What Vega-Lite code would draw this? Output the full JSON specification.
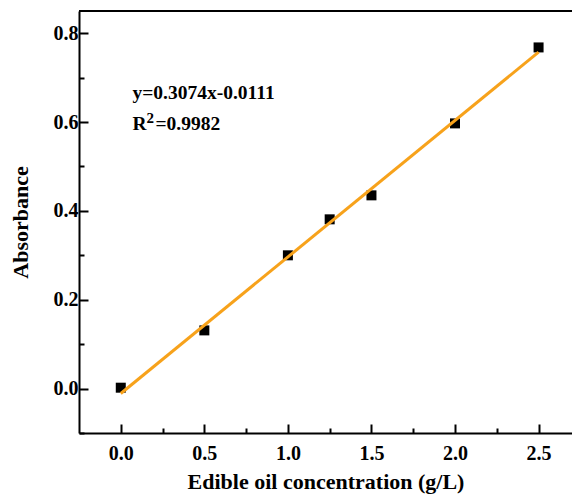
{
  "$schema": "https://vega.github.io/schema/vega-lite/v6.json",
  "width": 493,
  "height": 422,
  "autosize": {"type": "none"},
  "padding": {"left": 79, "top": 11, "right": 0, "bottom": 62},
  "background": "white",
  "config": {
    "view": {"stroke": null},
    "font": "Liberation Serif",
    "axis": {
      "domainColor": "black",
      "domainWidth": 2,
      "tickColor": "black",
      "tickWidth": 2,
      "grid": false,
      "labelOverlap": false,
      "labelFont": "Liberation Serif",
      "labelFontWeight": "bold",
      "labelFontSize": 20,
      "labelColor": "black",
      "titleFont": "Liberation Serif",
      "titleFontWeight": "bold",
      "titleFontSize": 22,
      "titleColor": "black"
    }
  },
  "datasets": {
    "measured": [
      {"conc": 0.0, "abs": 0.002},
      {"conc": 0.5, "abs": 0.131},
      {"conc": 1.0, "abs": 0.300},
      {"conc": 1.25, "abs": 0.381},
      {"conc": 1.5, "abs": 0.435},
      {"conc": 2.0, "abs": 0.597},
      {"conc": 2.5, "abs": 0.768}
    ],
    "fit": [
      {"conc": 0.0, "abs": -0.0111},
      {"conc": 2.5, "abs": 0.7574}
    ]
  },
  "layer": [
    {
      "data": {"values": [{"top": 0.85}]},
      "mark": {"type": "rule", "color": "black", "strokeWidth": 2},
      "encoding": {"y": {"field": "top", "type": "quantitative", "scale": {"domain": [-0.1, 0.85]}}}
    },
    {
      "data": {"name": "measured"},
      "mark": {"type": "square", "color": "black", "opacity": 1, "size": 100, "filled": true},
      "encoding": {
        "x": {
          "field": "conc", "type": "quantitative",
          "scale": {"domain": [-0.25, 2.7], "nice": false, "zero": false},
          "axis": {
            "title": "Edible oil concentration (g/L)",
            "values": [0, 0.25, 0.5, 0.75, 1, 1.25, 1.5, 1.75, 2, 2.25, 2.5],
            "labelExpr": "round(datum.value * 4) % 2 == 1 ? '' : format(datum.value, '.1f')",
            "tickSize": {"condition": {"test": "round(datum.value * 4) % 2 == 1", "value": -5}, "value": -9},
            "labelPadding": 19,
            "titlePadding": 4
          }
        },
        "y": {
          "field": "abs", "type": "quantitative",
          "scale": {"domain": [-0.1, 0.85], "nice": false, "zero": false},
          "axis": {
            "title": "Absorbance",
            "values": [-0.1, 0, 0.1, 0.2, 0.3, 0.4, 0.5, 0.6, 0.7, 0.8],
            "labelExpr": "round(abs(datum.value) * 10) % 2 == 1 ? '' : format(datum.value, '.1f')",
            "tickSize": {"condition": {"test": "round(abs(datum.value) * 10) % 2 == 1", "value": -5}, "value": -9},
            "labelPadding": 10,
            "titlePadding": 21
          }
        }
      }
    },
    {
      "data": {"name": "fit"},
      "mark": {"type": "line", "color": "#F7A21B", "strokeWidth": 3},
      "encoding": {
        "x": {"field": "conc", "type": "quantitative"},
        "y": {"field": "abs", "type": "quantitative"}
      }
    },
    {
      "data": {"values": [{"conc": 0.07, "abs": 0.665, "label": "y=0.3074x-0.0111"}]},
      "mark": {"type": "text", "align": "left", "baseline": "middle", "fontSize": 19.5, "fontWeight": "bold", "font": "Liberation Serif", "color": "black"},
      "encoding": {
        "x": {"field": "conc", "type": "quantitative"},
        "y": {"field": "abs", "type": "quantitative"},
        "text": {"field": "label"}
      }
    },
    {
      "data": {"values": [{"conc": 0.07, "abs": 0.596, "label": "R"}]},
      "mark": {"type": "text", "align": "left", "baseline": "middle", "fontSize": 19.5, "fontWeight": "bold", "font": "Liberation Serif", "color": "black"},
      "encoding": {
        "x": {"field": "conc", "type": "quantitative"},
        "y": {"field": "abs", "type": "quantitative"},
        "text": {"field": "label"}
      }
    },
    {
      "data": {"values": [{"conc": 0.07, "abs": 0.596, "label": "2"}]},
      "mark": {"type": "text", "align": "left", "baseline": "middle", "fontSize": 15, "fontWeight": "bold", "font": "Liberation Serif", "color": "black", "dx": 14, "dy": -6},
      "encoding": {
        "x": {"field": "conc", "type": "quantitative"},
        "y": {"field": "abs", "type": "quantitative"},
        "text": {"field": "label"}
      }
    },
    {
      "data": {"values": [{"conc": 0.07, "abs": 0.596, "label": "=0.9982"}]},
      "mark": {"type": "text", "align": "left", "baseline": "middle", "fontSize": 19.5, "fontWeight": "bold", "font": "Liberation Serif", "color": "black", "dx": 23},
      "encoding": {
        "x": {"field": "conc", "type": "quantitative"},
        "y": {"field": "abs", "type": "quantitative"},
        "text": {"field": "label"}
      }
    }
  ]
}
